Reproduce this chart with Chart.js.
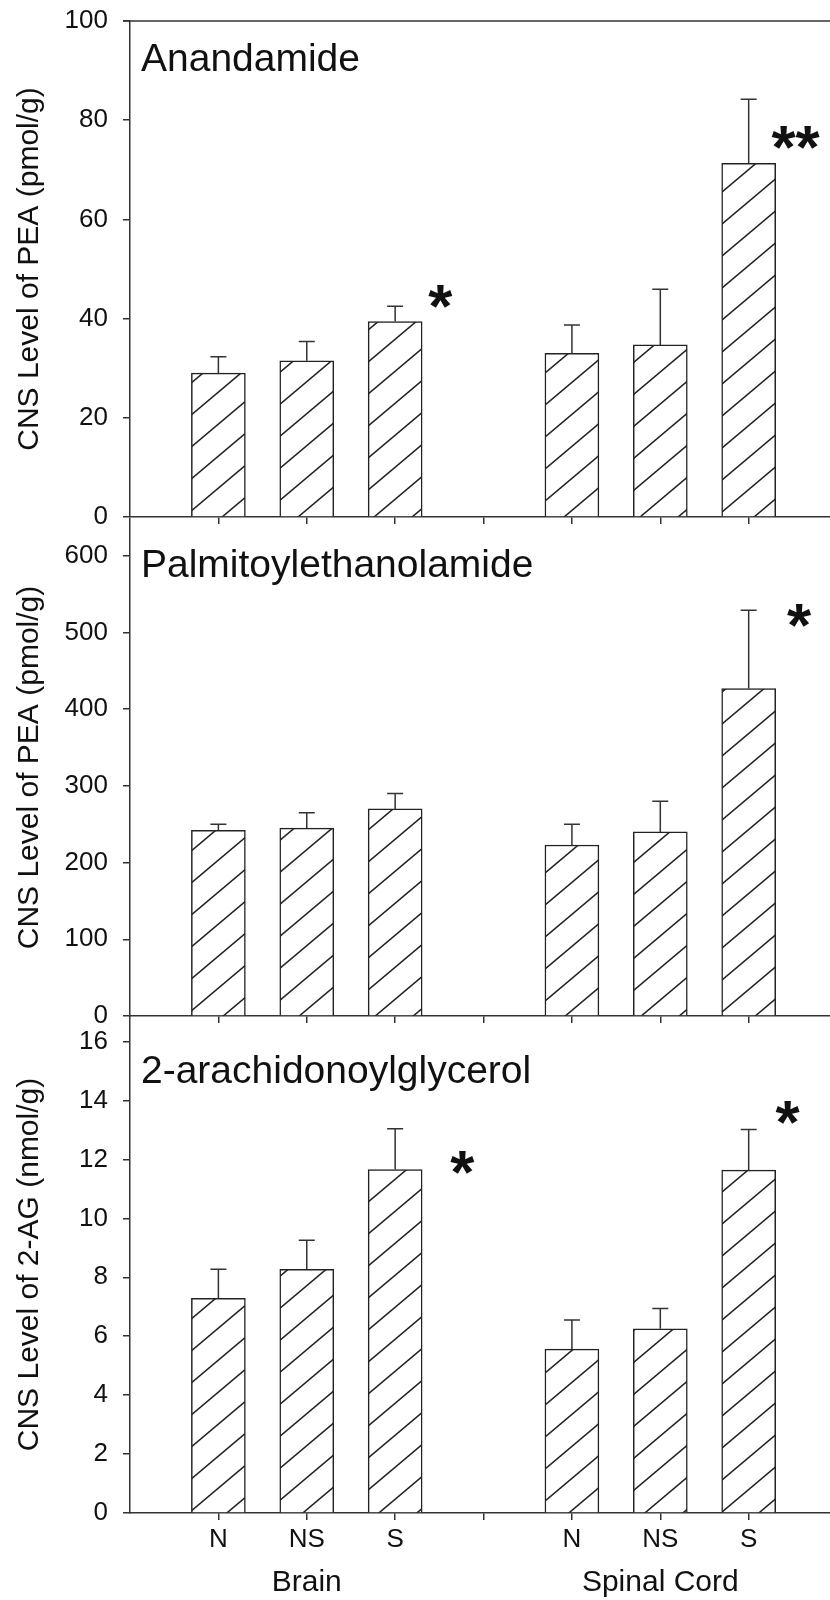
<!DOCTYPE html>
<html lang="en">
<head>
    <meta charset="UTF-8">
    <title>CNS levels of AEA, PEA and 2-AG</title>
    <script src="https://cdn.jsdelivr.net/npm/chart.js"></script>
    <style>
        body { margin: 0; background: #fff; }
        .wrap { position: relative; width: 830px; height: 1600px; }
        .panel { position: absolute; left: 0; width: 830px; }
    </style>
</head>
<body>
    <div class="wrap">
        <div class="panel" style="top: 0; height: 540px;"><canvas id="chart-aea"></canvas></div>
        <div class="panel" style="top: 500px; height: 540px;"><canvas id="chart-pea"></canvas></div>
        <div class="panel" style="top: 1000px; height: 600px;"><canvas id="chart-2ag"></canvas></div>
    </div>

    <script>
        // x axis: two tissues, three groups each, an empty slot between them
        const xTickPositions = [1, 2, 3, 4, 5, 6, 7];
        const xTickLabels = ['N', 'NS', 'S', '', 'N', 'NS', 'S'];
        const barPositions = [1, 2, 3, 5, 6, 7];
        const groupLabels = ['Brain', 'Spinal Cord'];
        const groupOfBar = [0, 0, 0, 1, 1, 1];

        // Anandamide
        const aeaValues = [29.0, 31.5, 39.4, 33.0, 34.7, 71.3];
        const aeaErrors = [3.3, 3.9, 3.1, 5.7, 11.2, 12.9];
        const aeaTicks = [0, 20, 40, 60, 80, 100];
        const aeaMarks = [{ text: '*', x: 3.51, y: 44.5 }, { text: '**', x: 7.53, y: 76.6 }];

        // Palmitoylethanolamide
        const peaValues = [242, 245, 270, 223, 240, 427];
        const peaErrors = [8, 20, 20, 27, 40, 102];
        const peaTicks = [0, 100, 200, 300, 400, 500, 600];
        const peaMarks = [{ text: '*', x: 7.57, y: 522 }];

        // 2-arachidonoylglycerol
        const agValues = [7.29, 8.27, 11.66, 5.56, 6.25, 11.64];
        const agErrors = [0.98, 0.99, 1.38, 0.99, 0.69, 1.38];
        const agTicks = [0, 2, 4, 6, 8, 10, 12, 14, 16];
        const agMarks = [{ text: '*', x: 3.76, y: 11.9 }, { text: '*', x: 7.44, y: 13.6 }];

        const FONT = "'Liberation Sans', Arial, Helvetica, sans-serif";
        const INK = '#111';
        const LINE = '#333';

        Chart.defaults.font.family = FONT;
        Chart.defaults.color = INK;

        function makeHatch() {
            const w = 38, h = 32;
            const c = document.createElement('canvas');
            c.width = w;
            c.height = h;
            const g = c.getContext('2d');
            g.fillStyle = '#fff';
            g.fillRect(0, 0, w, h);
            g.strokeStyle = '#222';
            g.lineWidth = 1.5;
            for (let k = -1; k <= 1; k++) {
                g.beginPath();
                g.moveTo(-w, h * (2 + k));
                g.lineTo(2 * w, h * (-1 + k));
                g.stroke();
            }
            return g.createPattern(c, 'repeat');
        }

        // error bars, significance stars, panel title, frame and group labels
        const panelExtras = {
            id: 'panelExtras',
            afterDraw(chart, args, opts) {
                const { ctx, chartArea, scales: { x, y } } = chart;
                const bars = chart.getDatasetMeta(0).data;
                ctx.save();

                ctx.strokeStyle = LINE;
                ctx.lineWidth = 1.5;
                bars.forEach((bar, i) => {
                    const top = y.getPixelForValue(opts.values[i] + opts.errors[i]);
                    ctx.beginPath();
                    ctx.moveTo(bar.x, bar.y);
                    ctx.lineTo(bar.x, top);
                    ctx.moveTo(bar.x - 8, top);
                    ctx.lineTo(bar.x + 8, top);
                    ctx.stroke();
                });

                if (opts.topFrame) {
                    ctx.beginPath();
                    ctx.moveTo(chartArea.left - 7, chartArea.top);
                    ctx.lineTo(chartArea.right, chartArea.top);
                    ctx.stroke();
                }

                ctx.fillStyle = INK;
                ctx.font = 'bold 62px ' + FONT;
                ctx.textAlign = 'center';
                ctx.textBaseline = 'alphabetic';
                opts.marks.forEach(m => {
                    const tm = ctx.measureText(m.text);
                    const cy = y.getPixelForValue(m.y);
                    const base = cy + (tm.actualBoundingBoxAscent - tm.actualBoundingBoxDescent) / 2;
                    ctx.fillText(m.text, x.getPixelForValue(m.x), base);
                });

                ctx.font = '39px ' + FONT;
                ctx.textAlign = 'left';
                ctx.fillText(opts.title, chartArea.left + 11, chartArea.top + opts.titleDrop);

                if (opts.groups) {
                    ctx.font = '30px ' + FONT;
                    ctx.textAlign = 'center';
                    ctx.textBaseline = 'middle';
                    groupLabels.forEach((label, g) => {
                        const xs = bars.filter((b, i) => groupOfBar[i] === g).map(b => b.x);
                        const cx = xs.reduce((a, b) => a + b, 0) / xs.length;
                        ctx.fillText(label, cx, chartArea.bottom + 70);
                    });
                }
                ctx.restore();
            }
        };

        function createPanel(canvasId, cfg) {
            new Chart(document.getElementById(canvasId), {
                type: 'bar',
                data: {
                    datasets: [{
                        data: barPositions.map((pos, i) => ({ x: pos, y: cfg.values[i] })),
                        backgroundColor: hatchFill,
                        borderColor: '#222',
                        borderWidth: 1.5,
                        barThickness: 54
                    }]
                },
                options: {
                    responsive: true,
                    maintainAspectRatio: false,
                    animation: false,
                    layout: { padding: { top: cfg.padTop, left: 0, right: 0, bottom: 0 } },
                    plugins: {
                        legend: { display: false },
                        tooltip: { enabled: false },
                        panelExtras: {
                            values: cfg.values,
                            errors: cfg.errors,
                            marks: cfg.marks,
                            title: cfg.title,
                            titleDrop: cfg.titleDrop,
                            topFrame: cfg.topFrame,
                            groups: cfg.showLabels
                        }
                    },
                    scales: {
                        x: {
                            type: 'linear',
                            min: 0,
                            max: 7.92,
                            offset: false,
                            afterBuildTicks: s => { s.ticks = xTickPositions.map(v => ({ value: v })); },
                            afterFit: s => { s.height = cfg.xHeight; },
                            ticks: {
                                display: cfg.showLabels,
                                autoSkip: false,
                                maxRotation: 0,
                                padding: 4,
                                font: { size: 26 },
                                color: INK,
                                callback: (v, i) => xTickLabels[i]
                            },
                            grid: { drawOnChartArea: false, offset: false, tickLength: 7, color: LINE, lineWidth: 1.5 },
                            border: { display: true, color: LINE, width: 1.5 }
                        },
                        y: {
                            min: 0,
                            max: cfg.yMax,
                            afterBuildTicks: s => { s.ticks = cfg.yTicks.map(v => ({ value: v })); },
                            afterFit: s => {
                                s.width = 130;
                                s.paddingTop = 0;
                                s.paddingBottom = 0;
                            },
                            ticks: { padding: 15, font: { size: 26 }, color: INK },
                            grid: { drawOnChartArea: false, tickLength: 7, color: LINE, lineWidth: 1.5 },
                            border: { display: true, color: LINE, width: 1.5 },
                            title: {
                                display: true,
                                text: cfg.yTitle,
                                font: { size: 30 },
                                color: INK,
                                padding: { top: 12, bottom: 0 }
                            }
                        }
                    }
                },
                plugins: [panelExtras]
            });
        }

        const hatchFill = makeHatch();

        createPanel('chart-aea', {
            values: aeaValues, errors: aeaErrors, yTicks: aeaTicks, marks: aeaMarks, yMax: 100,
            title: 'Anandamide', titleDrop: 50, yTitle: 'CNS Level of PEA (pmol/g)',
            padTop: 21, xHeight: 23, topFrame: true, showLabels: false
        });
        createPanel('chart-pea', {
            values: peaValues, errors: peaErrors, yTicks: peaTicks, marks: peaMarks, yMax: 648,
            title: 'Palmitoylethanolamide', titleDrop: 58, yTitle: 'CNS Level of PEA (pmol/g)',
            padTop: 19, xHeight: 24, topFrame: false, showLabels: false
        });
        createPanel('chart-2ag', {
            values: agValues, errors: agErrors, yTicks: agTicks, marks: agMarks, yMax: 16.87,
            title: '2-arachidonoylglycerol', titleDrop: 67, yTitle: 'CNS Level of 2-AG (nmol/g)',
            padTop: 16, xHeight: 87, topFrame: false, showLabels: true
        });
    </script>
</body>
</html>
